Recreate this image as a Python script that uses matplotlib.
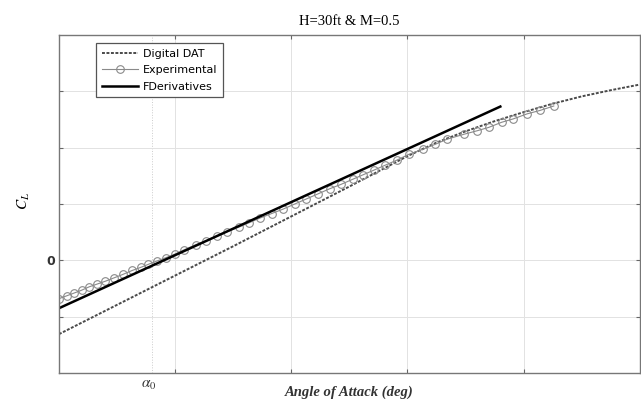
import numpy as np
import matplotlib.pyplot as plt

plt.rcParams['mathtext.fontset'] = 'stix'

# Datele (unitati relative)
dat_x = [0.0, 0.5, 1.0, 1.5, 2.0, 2.5, 3.0, 3.25, 3.5, 3.75, 4.0, 4.25, 4.5, 4.75, 5.0]
dat_y = [-1.31, -0.79, -0.27, 0.25, 0.78, 1.31, 1.85, 2.09, 2.29, 2.47, 2.63, 2.78, 2.91, 3.02, 3.12]

exp_x = [0.0, 0.066, 0.131, 0.195, 0.26, 0.33, 0.40, 0.475, 0.55, 0.63, 0.71, 0.77,
         0.846, 0.924, 0.996, 1.08, 1.18, 1.27, 1.36, 1.45, 1.55, 1.64, 1.73, 1.83,
         1.93, 2.03, 2.13, 2.23, 2.33, 2.43, 2.53, 2.62, 2.71, 2.81, 2.91, 3.01,
         3.13, 3.24, 3.34, 3.49, 3.60, 3.70, 3.81, 3.91, 4.03, 4.14, 4.26]
exp_y = [-0.68, -0.63, -0.58, -0.53, -0.47, -0.42, -0.37, -0.31, -0.25, -0.18, -0.12, -0.07,
         -0.01, 0.05, 0.11, 0.19, 0.28, 0.35, 0.43, 0.51, 0.59, 0.67, 0.75, 0.83,
         0.91, 1.00, 1.09, 1.18, 1.27, 1.35, 1.44, 1.52, 1.60, 1.69, 1.78, 1.88,
         1.97, 2.06, 2.15, 2.24, 2.30, 2.36, 2.45, 2.51, 2.60, 2.66, 2.74]

fd_x = [0.0, 3.8]
fd_y = [-0.85, 2.73]

alpha0 = 0.8

fig = plt.figure(figsize=(6.41, 4.07), dpi=100)
ax = fig.add_axes([0.092, 0.0835, 0.906, 0.8305])

ax.plot(dat_x, dat_y, color='#4a4a4a', lw=1.4, ls=(0, (1.5, 0.8)), label='Digital DAT')
ax.plot(exp_x, exp_y, color='#8a8a8a', lw=0.8, marker='o', ms=5.5, mfc='none',
        mec='#8a8a8a', mew=0.8, label='Experimental')
ax.plot(fd_x, fd_y, color='black', lw=1.8, label='FDerivatives')

ax.axvline(alpha0, color='#cccccc', lw=0.7, ls=':', zorder=0)

ax.set_xlim(0, 5)
ax.set_ylim(-2, 4)
ax.set_xticks([1, 2, 3, 4])
ax.set_xticklabels([])
ax.set_yticks([-1, 0, 1, 2, 3])
ax.set_yticklabels(['', '0', '', '', ''], fontsize=9, fontweight='bold', color='#333333')
ax.tick_params(direction='in', length=3, top=True, right=True, color='#666666', pad=3)
ax.grid(True, color='#e2e2e2', lw=0.7)
ax.set_axisbelow(True)
for s in ax.spines.values():
    s.set_color('#777777')
    s.set_linewidth(1.0)

ax.set_title('H=30ft & M=0.5', family='Liberation Serif', fontsize=10.5, pad=7)
ax.set_ylabel(r'$C_L$', fontsize=11)
ax.yaxis.set_label_coords(-0.047, 0.51)
ax.set_xlabel('Angle of Attack (deg)', family='Liberation Serif', fontsize=10.5,
              fontweight='bold', style='italic', color='#333333', labelpad=6)
ax.annotate(r'$\alpha_0$', xy=(alpha0, 0), xycoords=('data', 'axes fraction'),
            xytext=(-2, -8), textcoords='offset points', ha='center', va='center',
            fontsize=11, color='#333333')

leg = ax.legend(loc='upper left', bbox_to_anchor=(0.064, 0.976), borderaxespad=0,
                fontsize=8, handlelength=3.3, handletextpad=0.4, labelspacing=0.58,
                fancybox=False, framealpha=1, edgecolor='#555555', borderpad=0.5)
leg.get_frame().set_linewidth(0.9)

fig.savefig('out.png', dpi=100)
